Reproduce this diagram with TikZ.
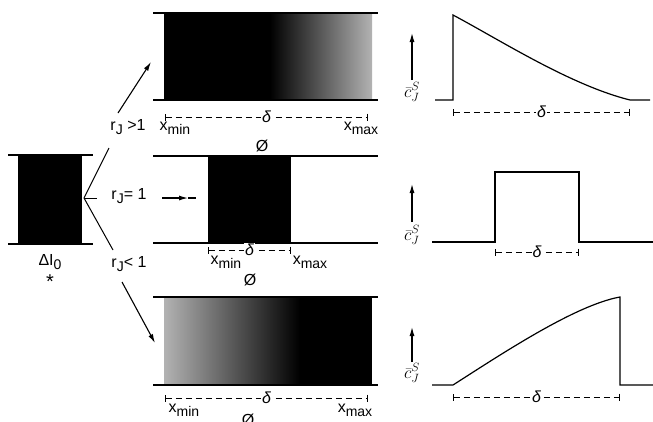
\documentclass[tikz,border=0pt]{standalone}
\usepackage{fontspec}
\setmainfont{Liberation Sans}
\usetikzlibrary{calc}
\usetikzlibrary{positioning}
\usetikzlibrary{arrows.meta}

\newcommand{\lo}[1]{\raisebox{-0.45ex}{\fontsize{14}{15}\selectfont #1}}

\tikzset{
  rail/.style={line width=2.2pt},
  dimline/.style={dashed, dash pattern=on 6pt off 4pt, line width=1pt, |-|},
  lbl/.style={font=\fontsize{16}{18}\selectfont, inner sep=1pt},
  clbl/.style={font=\fontsize{17}{18}\selectfont, inner sep=0pt},
  delta/.style={fill=white, inner sep=1pt, font=\fontsize{16}{18}\selectfont\itshape},
  curve/.style={line width=1.2pt},
  feed/.style={-{Latex[length=9pt,width=5pt]}, line width=1.1pt}
}

\begin{document}
\begin{tikzpicture}[x=1pt,y=-1pt]
        \useasboundingbox (0,0) rectangle (653,421);

        % starting profile
        \fill (18,155) rectangle (82,244);
        \draw[rail] (8,155) -- (93,155);
        \draw[rail] (8,244) -- (93,244);
        \node[lbl] (dI) at (50,262) {ΔI\lo{0}};
        \node[font=\fontsize{20}{20}\selectfont, inner sep=0pt] (star) at (50,282) {*};

        \coordinate (fan) at (84,198);
        \coordinate (fanUp) at (109,148);
        \coordinate (fanMid) at (97,198);
        \coordinate (fanDn) at (113,250);
        \draw[line width=1pt] (fan) -- (fanUp);
        \draw[line width=1pt] (fan) -- (fanMid);
        \draw[line width=1pt] (fan) -- (fanDn);

        \node[lbl] (rGt) at (128,127) {r\lo{J} >1};
        \node[lbl] (rEq) at (129,196) {r\lo{J}= 1};
        \node[lbl] (rLt) at (129,264) {r\lo{J}< 1};

        % channel fills
        \fill (164,13) rectangle (270,100);
        \shade[left color=black, right color=black!30] (270,13) rectangle (372,100);
        \fill (208,156) rectangle (291,243);
        \shade[left color=black!30, right color=black] (164,297) rectangle (300,385);
        \fill (300,297) rectangle (372,385);
        \foreach \yt/\yb in {13/100,156/243,297/385} {
            \draw[rail] (153,\yt) -- (378,\yt);
            \draw[rail] (153,\yb) -- (378,\yb);
        }

        % arrows into channels
        \coordinate (aUp0) at (118,113);
        \coordinate (aUp1) at (151,62);
        \draw[feed] (aUp0) -- (aUp1);
        \coordinate (aMid0) at (162,198);
        \coordinate (aMid1) at (188,198);
        \coordinate (aMid2) at (196,198);
        \draw[feed] (aMid0) -- (aMid1);
        \draw[line width=1.1pt] (aMid1) -- (aMid2);
        \coordinate (aDn0) at (122,282);
        \coordinate (aDn1) at (155,343);
        \draw[feed] (aDn0) -- (aDn1);

        % widths below channels
        \coordinate (d1a) at (165,117);
        \coordinate (d1b) at (368,117);
        \draw[dimline] (d1a) -- node[delta] {δ} (d1b);
        \node[lbl] (xmin1) at (175,128) {x\lo{min}};
        \node[lbl] (xmax1) at (361,128) {x\lo{max}};
        \node[lbl] (phi1) at (262,146) {Ø};

        \coordinate (d2a) at (208,250);
        \coordinate (d2b) at (291,250);
        \draw[dimline] (d2a) -- node[delta] {δ} (d2b);
        \node[lbl] (xmin2) at (226,262) {x\lo{min}};
        \node[lbl] (xmax2) at (310,262) {x\lo{max}};
        \node[lbl] (phi2) at (250,280) {Ø};

        \coordinate (d3a) at (165,398);
        \coordinate (d3b) at (368,398);
        \draw[dimline] (d3a) -- node[delta] {δ} (d3b);
        \node[lbl] (xmin3) at (184,410) {x\lo{min}};
        \node[lbl] (xmax3) at (355,410) {x\lo{max}};
        \node[lbl] (phi3) at (248,420) {Ø};

        % profiles
        \draw[feed] (412,80) -- (412,33);
        \node[clbl] (c1) at (412,92) {$\bar c^{S}_{J}$};
        \draw[curve] (435,100) -- (453,100) -- (453,15)
            .. controls (500,40) and (570,85) .. (630,100) -- (650,100);
        \coordinate (p1a) at (453,112);
        \coordinate (p1b) at (630,112);
        \draw[dimline] (p1a) -- node[delta] {δ} (p1b);

        \draw[feed] (412,222) -- (412,184);
        \node[clbl] (c2) at (412,235) {$\bar c^{S}_{J}$};
        \draw[curve] (432,242) -- (495,242) -- (495,172) -- (579,172)
            -- (579,242) -- (653,242);
        \coordinate (p2a) at (495,252);
        \coordinate (p2b) at (579,252);
        \draw[dimline] (p2a) -- node[delta] {δ} (p2b);

        \draw[feed] (412,362) -- (412,327);
        \node[clbl] (c3) at (412,373) {$\bar c^{S}_{J}$};
        \draw[curve] (432,385) -- (453,385)
            .. controls (500,355) and (575,305) .. (620,297) -- (620,385) -- (653,385);
        \coordinate (p3a) at (453,397);
        \coordinate (p3b) at (620,397);
        \draw[dimline] (p3a) -- node[delta] {δ} (p3b);
\end{tikzpicture}
\end{document}
